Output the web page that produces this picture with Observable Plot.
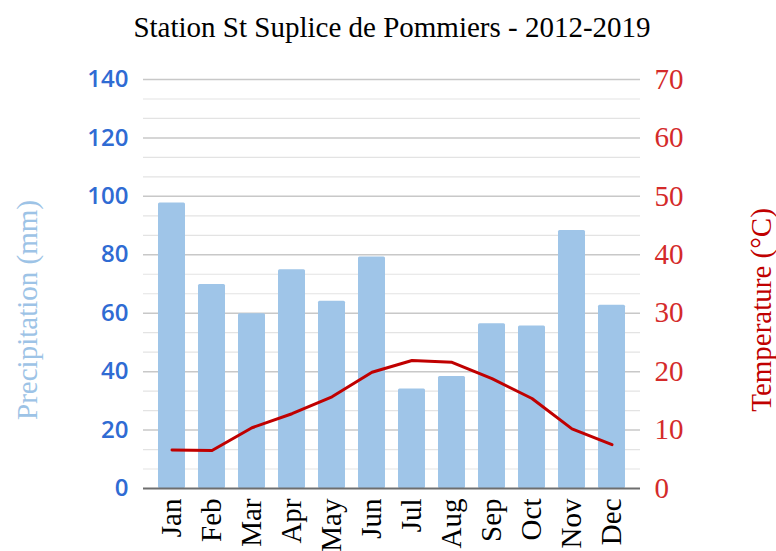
<!DOCTYPE html>
<html>
<head>
<meta charset="utf-8">
<script src="https://cdn.jsdelivr.net/npm/d3@7"></script>
<script src="https://cdn.jsdelivr.net/npm/@observablehq/plot@0.6"></script>
<style>
  html, body { margin: 0; padding: 0; background: #fff; }
</style>
</head>
<body>
<div id="chart"></div>
<script>
const title = "Station St Suplice de Pommiers - 2012-2019";
const months = ["Jan","Feb","Mar","Apr","May","Jun","Jul","Aug","Sep","Oct","Nov","Dec"];
const precipitation = [97.7, 69.8, 59.8, 74.9, 64.1, 79.2, 34.1, 38.3, 56.4, 55.6, 88.3, 62.7];
const temperature = [6.6, 6.5, 10.4, 12.8, 15.7, 19.9, 21.9, 21.6, 18.8, 15.4, 10.2, 7.5];
const precipTicks = [0, 20, 40, 60, 80, 100, 120, 140];
const tempTicks = [0, 10, 20, 30, 40, 50, 60, 70];
const precipLabel = "Precipitation (mm)";
const tempLabel = "Temperature (°C)";

const ratio = 2; // 70 °C on the right axis sits at 140 mm on the left
const table = months.map((m, i) => ({month: m, precip: precipitation[i], temp: temperature[i]}));
const minorTicks = d3.range(0, 21).map(i => i * 20 / 3).filter(v => !precipTicks.some(t => Math.abs(t - v) < 1e-6));

const serif = "Liberation Serif";

const chart = Plot.plot({
  width: 776,
  height: 551,
  marginLeft: 143,
  marginRight: 136,
  marginTop: 79,
  marginBottom: 63,
  style: {background: "#fff"},
  x: {type: "band", domain: months, padding: 0.33},
  y: {domain: [0, 140]},
  marks: [
    Plot.ruleY(minorTicks, {stroke: "#e3e3e3", strokeWidth: 1.2}),
    Plot.ruleY(precipTicks.slice(1), {stroke: "#c8c8c8", strokeWidth: 1.5}),
    Plot.barY(table, {x: "month", y: "precip", fill: "#9fc5e8", rx: 1.5}),
    Plot.ruleY([0], {stroke: "#6e6e6e", strokeWidth: 2}),
    Plot.line(table, {x: "month", y: d => d.temp * ratio, stroke: "#c00000", strokeWidth: 3, strokeLinejoin: "round"}),
    Plot.axisX({tickRotate: -90, tickSize: 0, tickPadding: 10, fontSize: 29, fontFamily: serif, fill: "#000", label: null}),
    Plot.axisY(precipTicks, {anchor: "left", tickSize: 0, tickPadding: 15, fontSize: 24, fontWeight: 600, fontFamily: "Open Sans", fill: "#2f6bd3", label: null}),
    Plot.axisY(tempTicks.map(t => t * ratio), {anchor: "right", tickSize: 0, tickPadding: 14, tickFormat: d => d / ratio, fontSize: 29, fontFamily: "Liberation Sans Narrow", fill: "#d42a2a", label: null}),
    Plot.text([title], {frameAnchor: "top", dy: -52, lineAnchor: "middle", fontSize: 29, fontFamily: serif, fill: "#000"}),
    Plot.text([precipLabel], {frameAnchor: "left", dx: -116, dy: 26, rotate: -90, textAnchor: "middle", lineAnchor: "middle", fontSize: 29, fontFamily: serif, fill: "#9dc3e6"}),
    Plot.text([tempLabel], {frameAnchor: "right", dx: 121, dy: 26, rotate: -90, textAnchor: "middle", lineAnchor: "middle", fontSize: 29, fontFamily: serif, fill: "#c00000"})
  ]
});
document.getElementById("chart").appendChild(chart);
</script>
</body>
</html>
